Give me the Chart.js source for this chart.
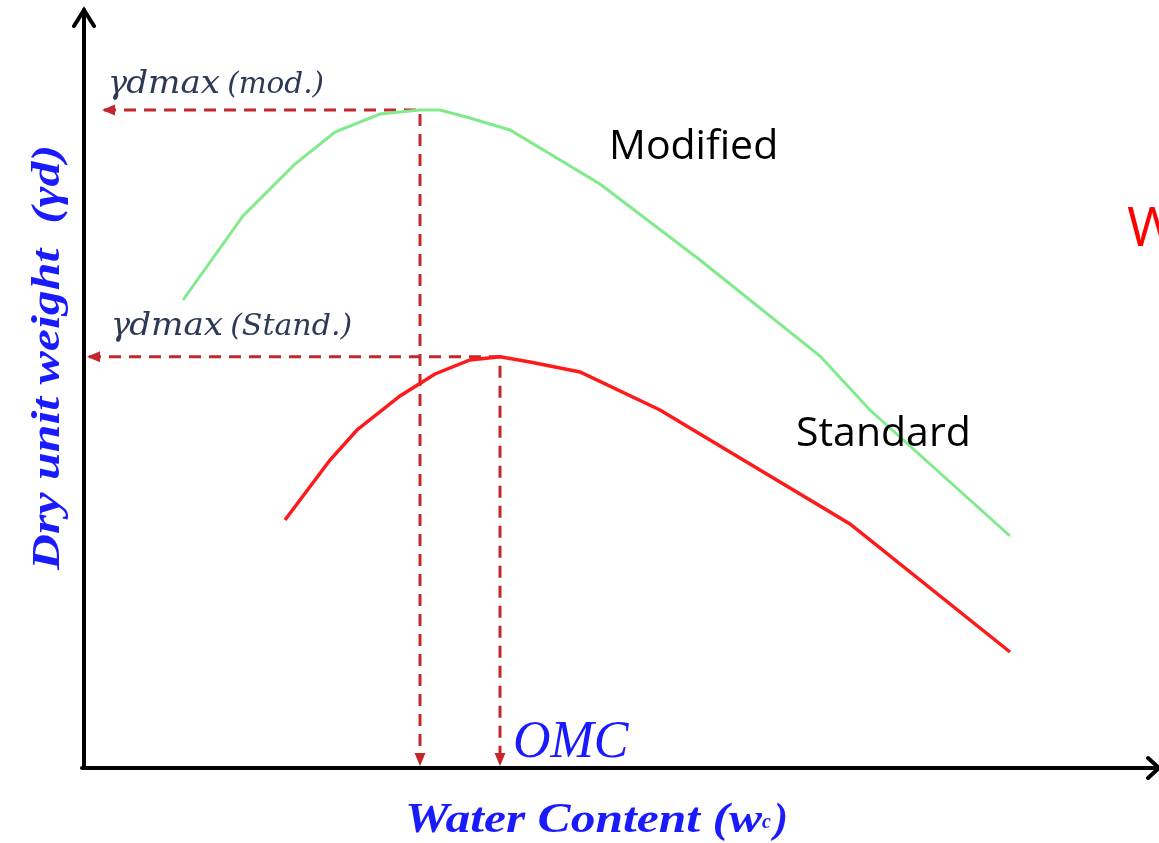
<!DOCTYPE html>
<html>
<head>
<meta charset="utf-8">
<script src="https://cdn.jsdelivr.net/npm/chart.js@4.4.1/dist/chart.umd.min.js"></script>
<style>
  html, body { margin: 0; padding: 0; background: #fff; }
  #wrap { width: 1159px; height: 843px; overflow: hidden; }
</style>
</head>
<body>
<div id="wrap"><canvas id="myChart" width="1159" height="843"></canvas></div>
<script>
// water content (arbitrary units) and dry unit weight values
let modifiedX = [1.98, 3.18, 4.22, 5.02, 5.92, 6.72, 7.12, 7.72, 8.52, 10.32, 12.32, 14.72, 15.72, 18.52];
let modifiedY = [11.7, 13.8, 15.1, 15.9, 16.35, 16.45, 16.45, 16.25, 15.95, 14.6, 12.7, 10.3, 8.95, 5.8];

let standardX = [4.02, 4.92, 5.46, 6.32, 7.02, 7.72, 8.32, 8.92, 9.92, 11.52, 13.52, 15.32, 18.52];
let standardY = [6.2, 7.7, 8.45, 9.3, 9.85, 10.2, 10.28, 10.15, 9.9, 8.95, 7.45, 6.1, 2.9];

// peaks (OMC, gamma dmax)
let modPeak = { x: 6.72, y: 16.45 };
let stdPeak = { x: 8.32, y: 10.28 };

let xRange = [0, 21.5];
let yRange = [0, 18.95];

function toPoints(xs, ys) {
  return xs.map((x, i) => ({ x: x, y: ys[i] }));
}

const dashRed = '#c0282d';

// squeeze / stretch a text so it spans the given width
function fitText(c, text, x, y, width) {
  let w = c.measureText(text).width;
  c.save();
  c.translate(x, y);
  c.scale(width / w, 1);
  c.fillText(text, 0, 0);
  c.restore();
}

// draws axes with arrows, the arrowheads of the dashed guides and the labels
const annotate = {
  id: 'annotate',
  afterDatasetsDraw(chart) {
    const c = chart.ctx;
    const sx = chart.scales.x, sy = chart.scales.y;
    const ox = sx.getPixelForValue(0), oy = sy.getPixelForValue(0);

    // arrowheads on dashed lines
    function tri(x, y, dir) {
      c.save();
      c.fillStyle = dashRed;
      c.beginPath();
      if (dir == 'left') {
        c.moveTo(x, y); c.lineTo(x + 13, y - 5.5); c.lineTo(x + 13, y + 5.5);
      } else {
        c.moveTo(x, y); c.lineTo(x - 5.5, y - 13); c.lineTo(x + 5.5, y - 13);
      }
      c.closePath();
      c.fill();
      c.restore();
    }
    tri(ox + 18, sy.getPixelForValue(modPeak.y), 'left');
    tri(ox + 3, sy.getPixelForValue(stdPeak.y), 'left');
    tri(sx.getPixelForValue(modPeak.x), oy - 2, 'down');
    tri(sx.getPixelForValue(stdPeak.x), oy - 2, 'down');

    // axes
    c.save();
    c.strokeStyle = '#000';
    c.lineWidth = 4;
    c.lineCap = 'round';
    c.beginPath();
    c.moveTo(ox, oy); c.lineTo(ox, 10);
    c.moveTo(ox - 2, oy); c.lineTo(1158, oy);
    c.stroke();
    c.beginPath();
    c.moveTo(ox - 10, 26); c.lineTo(ox, 10); c.lineTo(ox + 10, 26);
    c.moveTo(1148, oy - 10); c.lineTo(1159, oy); c.lineTo(1148, oy + 10);
    c.stroke();
    c.restore();

    c.save();
    c.textBaseline = 'alphabetic';
    // gamma labels
    function gammaLabel(x, y, tag, tagW) {
      c.fillStyle = '#2e3a55';
      c.font = 'italic 32px "DejaVu Serif"';
      c.fillText('\u03B3', x, y);
      let w = c.measureText('\u03B3').width;
      c.font = 'italic 31px "DejaVu Serif"';
      fitText(c, 'dmax', x + w - 1, y, 94);
      c.font = 'italic 29px "DejaVu Serif"';
      fitText(c, tag, x + w + 100, y, tagW);
    }
    gammaLabel(108, 93, '(mod.)', 97);
    gammaLabel(111, 335, '(Stand.)', 122);

    // curve names
    c.fillStyle = '#000';
    c.font = '41px "Open Sans"';
    c.fillText('Modified', 609, 159);
    c.fillText('Standard', 796, 446);

    c.fillStyle = '#ff0000';
    c.font = '55px "Open Sans"';
    c.fillText('W', 1127, 246);

    // OMC
    c.fillStyle = '#1a1aff';
    c.font = 'italic 52px "Liberation Serif"';
    c.fillText('OMC', 513, 757);

    // x title
    c.fillStyle = '#1a1aff';
    c.font = 'bold italic 42px "Liberation Serif"';
    fitText(c, 'Water Content (w', 405, 832, 357);
    c.font = 'bold italic 20px "Liberation Serif"';
    c.fillText('c', 762, 828);
    c.font = 'bold italic 42px "Liberation Serif"';
    c.fillText(')', 774, 832);

    // y title
    c.translate(59, 570);
    c.rotate(-Math.PI / 2);
    c.font = 'bold italic 41px "Liberation Serif"';
    fitText(c, 'Dry unit weight  (\u03B3d)', 0, 0, 425);
    c.restore();
  }
};

let ctx = document.getElementById('myChart').getContext('2d');

let myChart = new Chart(ctx, {
  type: 'scatter',
  data: {
    datasets: [
      {
        label: 'Modified',
        data: toPoints(modifiedX, modifiedY),
        showLine: true,
        borderColor: '#80ea8c',
        borderWidth: 3,
        pointRadius: 0,
        tension: 0
      },
      {
        label: 'Standard',
        data: toPoints(standardX, standardY),
        showLine: true,
        borderColor: '#ff1a1a',
        borderWidth: 3.5,
        pointRadius: 0,
        tension: 0
      },
      {
        label: 'mod guide',
        data: [{ x: 0.4, y: modPeak.y }, { x: modPeak.x, y: modPeak.y }, { x: modPeak.x, y: 0.3 }],
        showLine: true,
        borderColor: dashRed,
        borderWidth: 3,
        borderDash: [12, 8],
        pointRadius: 0
      },
      {
        label: 'std guide',
        data: [{ x: 0.1, y: stdPeak.y }, { x: stdPeak.x, y: stdPeak.y }, { x: stdPeak.x, y: 0.3 }],
        showLine: true,
        borderColor: dashRed,
        borderWidth: 3,
        borderDash: [12, 8],
        pointRadius: 0
      }
    ]
  },
  options: {
    responsive: false,
    animation: false,
    devicePixelRatio: 1,
    layout: { padding: { left: 84, right: 0, top: 10, bottom: 75 } },
    plugins: {
      legend: { display: false },
      tooltip: { enabled: false }
    },
    scales: {
      x: { type: 'linear', min: xRange[0], max: xRange[1], display: false },
      y: { type: 'linear', min: yRange[0], max: yRange[1], display: false }
    }
  },
  plugins: [annotate]
});
</script>
</body>
</html>
